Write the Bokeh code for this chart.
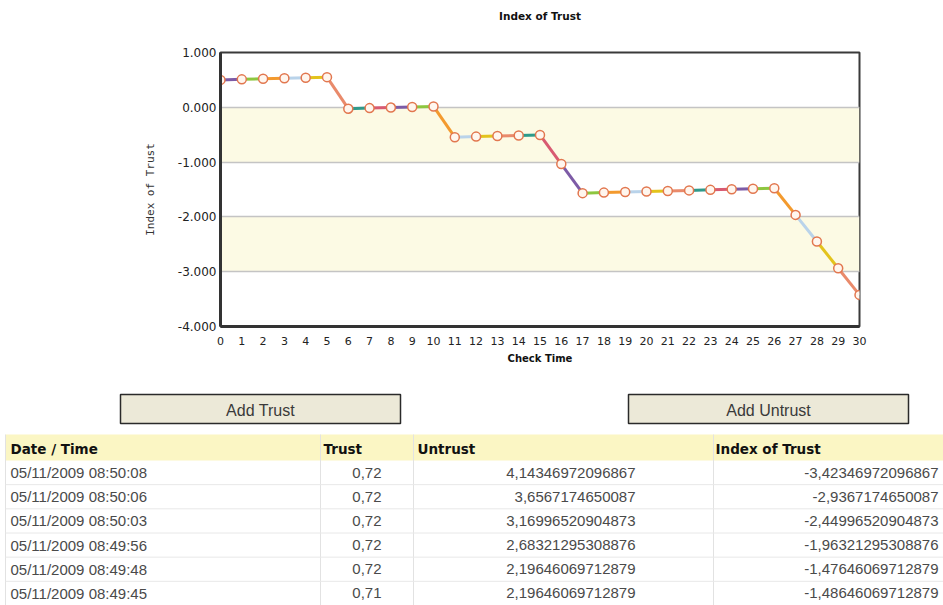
from bokeh.plotting import figure
from bokeh.models import Range1d, FixedTicker, PrintfTickFormatter, ColumnDataSource, BoxAnnotation, Title
from bokeh.embed import file_html
from bokeh.resources import INLINE
from bokeh.core.properties import value

# ---------------- data ----------------
check_time = list(range(31))
index_of_trust = [0.50, 0.51, 0.52, 0.53, 0.54, 0.55,
                  -0.025, -0.015, -0.005, 0.005, 0.015,
                  -0.545, -0.535, -0.525, -0.515, -0.505,
                  -1.035, -1.5665, -1.5565, -1.5465, -1.5365, -1.5265,
                  -1.5165, -1.5065, -1.4965, -1.4865, -1.4765,
                  -1.9632, -2.4500, -2.9367, -3.4235]
y_ticks = [1, 0, -1, -2, -3, -4]
grid_ticks = [0, -1, -2, -3]
shaded_bands = [(0, -1), (-2, -3)]
segment_colors = ["#7d5ba6", "#8dc63f", "#f39a2e", "#b9d3ea",
                  "#e3c31c", "#e98a6b", "#2e9a8b", "#d85a72"]

button_labels = ["Add Trust", "Add Untrust"]
table_headers = ["Date / Time", "Trust", "Untrust", "Index of Trust"]
dates = ["05/11/2009 08:50:08", "05/11/2009 08:50:06", "05/11/2009 08:50:03",
         "05/11/2009 08:49:56", "05/11/2009 08:49:48", "05/11/2009 08:49:45"]
trust = ["0,72", "0,72", "0,72", "0,72", "0,72", "0,71"]
untrust = ["4,14346972096867", "3,6567174650087", "3,16996520904873",
           "2,68321295308876", "2,19646069712879", "2,19646069712879"]
index_col = ["-3,42346972096867", "-2,9367174650087", "-2,44996520904873",
             "-1,96321295308876", "-1,47646069712879", "-1,48646069712879"]

# ---------------- chart ----------------
W = 943
H1 = 368
p = figure(width=W, height=H1, output_backend="svg", toolbar_location=None,
           x_range=Range1d(0, 30), y_range=Range1d(-4, 1),
           min_border_left=220, min_border_right=84, min_border_top=52,
           min_border_bottom=42)
p.background_fill_color = "white"
p.border_fill_color = "white"
p.outline_line_color = "#3a3a3a"
p.outline_line_width = 2

# real title at the top of the panel, a blank spacer title next to the frame
p.title.text = "Index of Trust"
p.title.align = "center"
p.title.vertical_align = "top"
p.title.standoff = 18
p.title.text_font = "DejaVu Sans"
p.title.text_font_style = "bold"
p.title.text_font_size = "10.5px"
p.title.text_color = "#111111"
p.add_layout(Title(text=" ", text_font_size="1px", standoff=17), "above")

for top, bottom in shaded_bands:
    p.add_layout(BoxAnnotation(top=top, bottom=bottom, fill_color="#fcfae4",
                               fill_alpha=1.0, line_color=None, level="image"))

p.xgrid.visible = False
p.ygrid.ticker = FixedTicker(ticks=grid_ticks)
p.ygrid.grid_line_color = "#c4c4c4"
p.ygrid.grid_line_width = 1.5

p.xaxis.ticker = FixedTicker(ticks=check_time)
p.xaxis.major_tick_line_color = None
p.xaxis.minor_tick_line_color = None
p.xaxis.major_tick_out = 0
p.xaxis.major_tick_in = 0
p.xaxis.axis_line_color = "#333333"
p.xaxis.axis_line_width = 3
p.xaxis.major_label_text_font = "DejaVu Sans"
p.xaxis.major_label_text_font_size = "11px"
p.xaxis.major_label_text_color = "#222222"
p.xaxis.major_label_standoff = 10
p.xaxis.axis_label = "Check Time"
p.xaxis.axis_label_text_font = "DejaVu Sans"
p.xaxis.axis_label_text_font_style = "bold"
p.xaxis.axis_label_text_font_size = "10px"
p.xaxis.axis_label_text_color = "#111111"
p.xaxis.axis_label_standoff = 5

p.yaxis.ticker = FixedTicker(ticks=y_ticks)
p.yaxis.formatter = PrintfTickFormatter(format="%.3f")
p.yaxis.major_tick_line_color = None
p.yaxis.minor_tick_line_color = None
p.yaxis.major_tick_out = 0
p.yaxis.major_tick_in = 0
p.yaxis.axis_line_color = "#333333"
p.yaxis.axis_line_width = 3
p.yaxis.major_label_text_font = "DejaVu Sans"
p.yaxis.major_label_text_font_size = "12px"
p.yaxis.major_label_text_color = "#222222"
p.yaxis.major_label_standoff = 4
p.yaxis.axis_label = "Index of Trust"
p.yaxis.axis_label_text_font = "DejaVu Sans Mono"
p.yaxis.axis_label_text_font_style = "normal"
p.yaxis.axis_label_text_font_size = "11px"
p.yaxis.axis_label_text_color = "#333333"
p.yaxis.axis_label_standoff = 18

seg = ColumnDataSource(dict(
    x0=check_time[:-1], y0=index_of_trust[:-1],
    x1=check_time[1:], y1=index_of_trust[1:],
    color=[segment_colors[i % len(segment_colors)] for i in range(len(check_time) - 1)],
))
p.segment(x0="x0", y0="y0", x1="x1", y1="y1", line_color="color",
          line_width=3, source=seg)
p.scatter(check_time, index_of_trust, size=9, marker="circle",
          fill_color="#fff6ee", line_color="#e2774f", line_width=1.5)

# ---------------- buttons + table ----------------
H2 = 605 - H1
t = figure(width=W, height=H2, output_backend="svg", toolbar_location=None,
           x_range=Range1d(0, W), y_range=Range1d(H2, 0),
           x_axis_type=None, y_axis_type=None,
           min_border=0, min_border_left=0, min_border_right=0,
           min_border_top=0, min_border_bottom=0)
t.grid.visible = False
t.outline_line_color = None
t.background_fill_color = "white"
t.border_fill_color = "white"

btn_left = [120, 628]
btn_w = 280
btn_top, btn_bot = 26, 55
t.quad(left=btn_left, right=[b + btn_w for b in btn_left],
       top=[btn_top] * 2, bottom=[btn_bot] * 2,
       fill_color="#ece9d8", line_color="#2a2a2a", line_width=1.5)
t.text(x=[b + btn_w / 2 for b in btn_left], y=[(btn_top + btn_bot) / 2 + 1] * 2,
       text=button_labels, text_align="center", text_baseline="middle",
       text_font=value("Liberation Sans"), text_font_size="16px",
       text_color="#3a3a3a")

tbl_left = 5
head_top, head_bot = 66, 92
row_h = (H2 - head_bot) / len(dates)
t.quad(left=[tbl_left], right=[W], top=[head_top], bottom=[head_bot],
       fill_color="#fbf6c4", line_color=None)
col_sep = [tbl_left, 320, 413, 713]
t.segment(x0=col_sep, y0=[head_top] * 4, x1=col_sep, y1=[H2] * 4,
          line_color="#e2e2e2", line_width=1)
row_lines = [head_bot + row_h * (k + 1) for k in range(len(dates) - 1)]
t.segment(x0=[tbl_left] * len(row_lines), y0=row_lines, x1=[W] * len(row_lines),
          y1=row_lines, line_color="#e8e8e8", line_width=1)

t.text(x=[10, 323, 417, 715], y=[(head_top + head_bot) / 2 + 1] * 4,
       text=table_headers, text_align="left", text_baseline="middle",
       text_font=value("DejaVu Sans"), text_font_style="bold",
       text_font_size="13.5px", text_color="#111111")

row_y = [head_bot + row_h * (k + 0.5) for k in range(len(dates))]
body = dict(text_baseline="middle", text_font=value("Liberation Sans"),
            text_font_size="15px", text_color="#4a4a4a")
t.text(x=[10] * len(dates), y=row_y, text=dates, text_align="left", **body)
t.text(x=[381] * len(dates), y=row_y, text=trust, text_align="right", **body)
t.text(x=[635] * len(dates), y=row_y, text=untrust, text_align="right", **body)
t.text(x=[938] * len(dates), y=row_y, text=index_col, text_align="right", **body)

open("out.html", "w").write(file_html([p, t], INLINE))
